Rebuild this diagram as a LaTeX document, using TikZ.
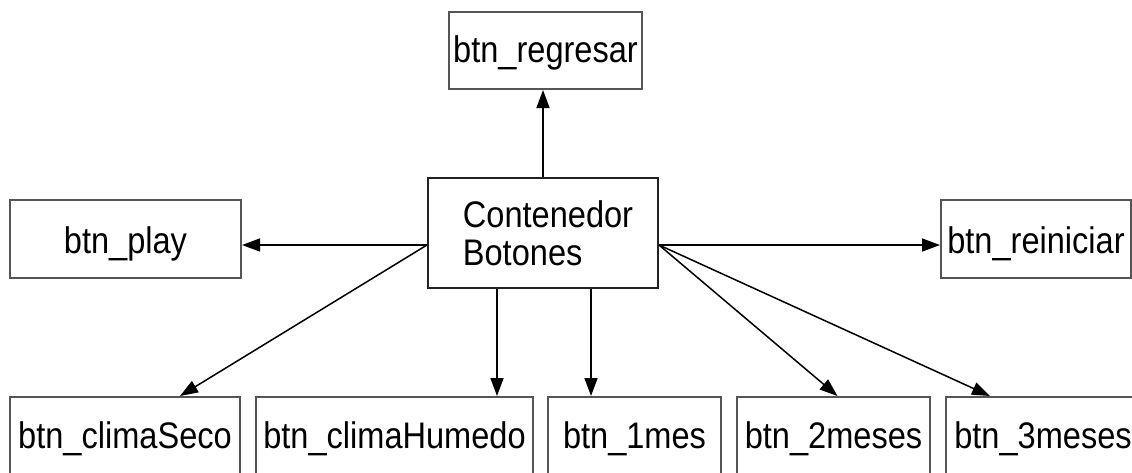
\documentclass[tikz,border=0pt]{standalone}
\usepackage{fontspec}
\setmainfont{Liberation Sans}[FakeStretch=0.88]
\usetikzlibrary{arrows.meta,calc}
\definecolor{boxline}{HTML}{555555}
\definecolor{hubline}{HTML}{222222}
\begin{document}
\begin{tikzpicture}[x=1pt,y=-1pt,
  box/.style={draw=boxline, line width=2pt, inner sep=0pt,
    font=\fontsize{37}{38}\selectfont},
  btn/.style={box, minimum width=#1, text height=29pt, text depth=0pt},
  toprow/.style={minimum height=78pt},
  botrow/.style={minimum height=106pt, text depth=33pt},
  link/.style={draw=black, line width=1.5pt, -{Triangle[length=18pt,width=13pt]}}]
  \clip (0,0) rectangle (1132,472);
  \fill[white] (0,0) rectangle (1132,472);

  % hub
  \node[box, draw=hubline, minimum width=230pt, minimum height=110pt, align=left]
    (cb) at (543,233) {\hspace*{10pt}Contenedor\\\hspace*{10pt}Botones};

  % upper buttons
  \node[btn=193pt, toprow, minimum height=77pt, text height=23pt] (reg) at (545.5,50.5) {btn\_regresar};
  \node[btn=231pt, toprow] (play) at (125.5,238.5) {btn\_play};
  \node[btn=190pt, toprow] (rei) at (1036,239) {btn\_reiniciar};

  % lower row
  \node[btn=230pt, botrow] (cs) at (125,450) {btn\_climaSeco};
  \node[btn=277pt, botrow] (ch) at (394.5,450) {btn\_climaHumedo};
  \node[btn=173pt, botrow] (m1) at (634.5,450) {btn\_1mes};
  \node[btn=193pt, botrow] (m2) at (833.5,450) {btn\_2meses};
  \node[btn=194pt, botrow] (m3) at (1043,450) {btn\_3meses};

  % connectors
  \coordinate (hl) at ([yshift=-12pt]cb.west);
  \coordinate (hr) at ([yshift=-12pt]cb.east);
  \draw[link] (cb.north) -- (cb.north |- reg.south);
  \draw[link] (hl) -- (hl -| play.east);
  \draw[link] (hr) -- (hr -| rei.west);
  \draw[link] (hl) -- ([xshift=55pt]cs.north);
  \draw[link] ([xshift=-46pt]cb.south) -- ([xshift=-46pt]cb.south |- ch.north);
  \draw[link] ([xshift=48pt]cb.south) -- ([xshift=48pt]cb.south |- m1.north);
  \draw[link] (hr) -- ([xshift=4pt]m2.north);
  \draw[link] (hr) -- ([xshift=-53pt]m3.north);
\end{tikzpicture}
\end{document}
